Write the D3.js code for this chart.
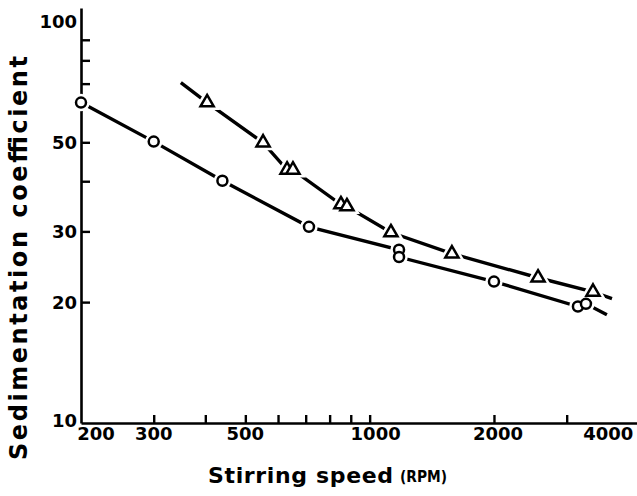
<!DOCTYPE html>
<html>
<head>
<meta charset="utf-8">
<script src="https://cdn.jsdelivr.net/npm/d3@7"></script>
<style>
  body { margin: 0; background: #fff; }
  svg { display: block; }
  text { font-family: "DejaVu Sans", sans-serif; font-weight: bold; fill: #000; }
</style>
</head>
<body>
<svg id="chart" width="637" height="496"></svg>
<script>
// circles: stirring speed (RPM) vs sedimentation coefficient
var circleRpm = [200, 300, 440, 713, 1178, 1178, 2000, 3194, 3340];
var circleSed = [62.8, 50.2, 40.1, 30.8, 27.0, 25.9, 22.5, 19.5, 19.8];
var circleLineEnd = [3754, 18.6];

// triangles
var triRpm = [404, 552, 631, 652, 852, 881, 1126, 1582, 2557, 3474];
var triSed = [62.8, 49.9, 42.7, 42.7, 35.0, 34.6, 29.8, 26.4, 23.0, 21.2];
var triLineStart = [349, 70.4];
var triLineEnd = [3862, 20.4];

// axis ticks and labels
var xMinorTicks = [300, 400, 500, 600, 700, 800, 900, 1000, 2000, 3000];
var xTickLabels = [200, 300, 500, 1000, 2000, 4000];
var yMinorTicks = [20, 30, 40, 50, 70, 80, 90];
var yTickLabels = [100, 50, 30, 20, 10];

var svg = d3.select('#chart');

var x = d3.scaleLog().domain([200, 4440]).range([81, 637]);
var y = d3.scaleLog().domain([10, 108]).range([423, 8]);

// label nudges so they sit like the hand lettering
var xLabelShift = { 200: 15, 300: 0, 500: 0, 1000: 6, 2000: 4, 4000: -10 };

// axes (ticks pointing inward)
var xAxis = d3.axisBottom(x).tickValues(xMinorTicks).tickSize(-8).tickSizeOuter(0).tickFormat('');
var yAxis = d3.axisLeft(y).tickValues(yMinorTicks).tickSize(-9).tickSizeOuter(0).tickFormat('');

var gx = svg.append('g').attr('transform', 'translate(0,423)').call(xAxis);
var gy = svg.append('g').attr('transform', 'translate(81,0)').call(yAxis);
[gx, gy].forEach(function (g) {
    g.select('.domain').attr('stroke', '#000').attr('stroke-width', 2.6);
    g.selectAll('.tick line').attr('stroke', '#000').attr('stroke-width', 2.4);
});

// tick labels
svg.append('g').selectAll('text')
    .data(xTickLabels)
    .enter().append('text')
    .attr('x', function (d) { return x(d) + xLabelShift[d]; })
    .attr('y', 440)
    .attr('text-anchor', 'middle')
    .attr('font-size', 18)
    .text(function (d) { return d; });

svg.append('g').selectAll('text')
    .data(yTickLabels)
    .enter().append('text')
    .attr('x', 77)
    .attr('y', function (d) { return d === 10 ? y(d) + 4 : y(d) + 6.5; })
    .attr('text-anchor', 'end')
    .attr('font-size', 18)
    .text(function (d) { return d; });

// axis titles
svg.append('text')
    .attr('transform', 'translate(27,258) rotate(-90)')
    .attr('text-anchor', 'middle')
    .attr('font-size', 24)
    .attr('textLength', 404)
    .attr('lengthAdjust', 'spacing')
    .text('Sedimentation  coefficient');

svg.append('text')
    .attr('x', 208)
    .attr('y', 483)
    .attr('font-size', 22)
    .attr('textLength', 185)
    .attr('lengthAdjust', 'spacing')
    .text('Stirring  speed');

svg.append('text')
    .attr('x', 400)
    .attr('y', 482)
    .attr('font-size', 15)
    .attr('textLength', 47)
    .attr('lengthAdjust', 'spacingAndGlyphs')
    .text('(RPM)');

// lines
var line = d3.line()
    .x(function (d) { return x(d[0]); })
    .y(function (d) { return y(d[1]); });

var circlePts = circleRpm.map(function (r, i) { return [r, circleSed[i]]; });
var triPts = triRpm.map(function (r, i) { return [r, triSed[i]]; });

svg.append('path')
    .attr('d', line(circlePts.concat([circleLineEnd])))
    .attr('fill', 'none').attr('stroke', '#000').attr('stroke-width', 3.4);

svg.append('path')
    .attr('d', line([triLineStart].concat(triPts, [triLineEnd])))
    .attr('fill', 'none').attr('stroke', '#000').attr('stroke-width', 3.4);

// markers: white halo first, then the outline
var tri = d3.symbol().type(d3.symbolTriangle).size(75);

[{ w: 7.5, c: '#fff' }, { w: 2.5, c: '#000' }].forEach(function (s) {
    svg.append('g').selectAll('circle')
        .data(circlePts)
        .enter().append('circle')
        .attr('cx', function (d) { return x(d[0]); })
        .attr('cy', function (d) { return y(d[1]); })
        .attr('r', 5)
        .attr('fill', '#fff')
        .attr('stroke', s.c)
        .attr('stroke-width', s.w);

    svg.append('g').selectAll('path')
        .data(triPts)
        .enter().append('path')
        .attr('d', tri)
        .attr('transform', function (d) { return 'translate(' + x(d[0]) + ',' + y(d[1]) + ')'; })
        .attr('fill', '#fff')
        .attr('stroke', s.c)
        .attr('stroke-width', s.w);
});
</script>
</body>
</html>
